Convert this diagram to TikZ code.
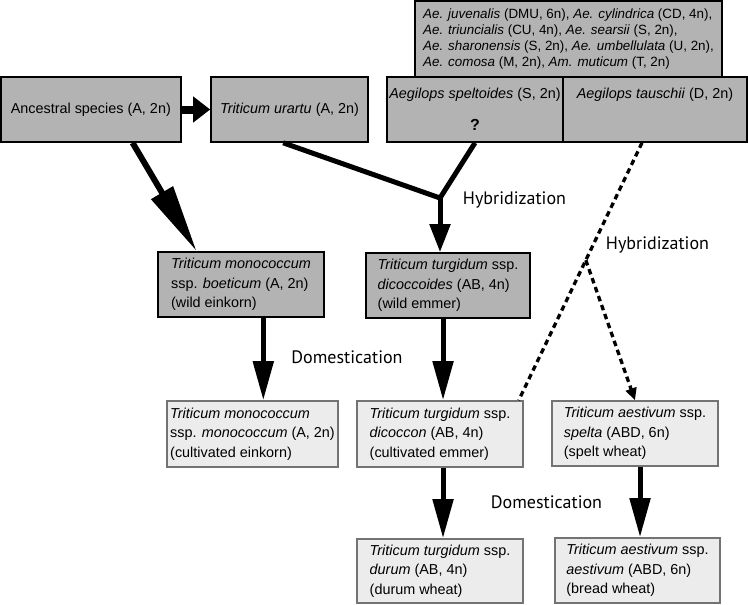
\documentclass[tikz,border=0pt]{standalone}
\usepackage{fontspec}
\setmainfont{Liberation Sans}
\newfontfamily\labfont{PT Sans}
\usetikzlibrary{arrows.meta,calc}
\definecolor{darkfill}{RGB}{179,179,179}
\definecolor{lightfill}{RGB}{236,236,236}
\definecolor{lightborder}{RGB}{115,115,115}
\begin{document}
\begin{tikzpicture}[x=1pt,y=-1pt,
  box/.style={rectangle, inner sep=0pt, align=left, font=\fontsize{14.4}{19.5}\selectfont},
  darkbox/.style={box, draw=black, line width=1.6pt, fill=darkfill},
  lightbox/.style={box, draw=lightborder, line width=1.6pt, fill=lightfill},
  thickarrow/.style={line width=5pt, -{Triangle[width=20pt,length=39pt]}},
  hybline/.style={line width=5pt},
  dotline/.style={line width=3.3pt, dash pattern=on 5.5pt off 4pt},
  lab/.style={font=\labfont\fontsize{18}{20}\selectfont, inner sep=0pt}
]
\useasboundingbox (0,0) rectangle (748,605);

% top row
\node[darkbox, minimum width=180pt, minimum height=65pt] (anc) at (90.8,109.5) {Ancestral species (A, 2n)};
\node[darkbox, minimum width=157pt, minimum height=65pt] (urartu) at (289.5,109.5) {\textit{Triticum urartu} (A, 2n)};
\node[darkbox, minimum width=307pt, minimum height=76pt, align=left, font=\fontsize{13.4}{16}\selectfont] (aegl) at (568.5,38.8)
  {\textit{Ae. juvenalis} (DMU, 6n), \textit{Ae. cylindrica} (CD, 4n),\\
   \textit{Ae. triuncialis} (CU, 4n), \textit{Ae. searsii} (S, 2n),\\
   \textit{Ae. sharonensis} (S, 2n), \textit{Ae. umbellulata} (U, 2n),\\
   \textit{Ae. comosa} (M, 2n), \textit{Am. muticum} (T, 2n)};
\node[darkbox, minimum width=176pt, minimum height=65pt, align=center] (spelt) at (475,109.5)
  {\textit{Aegilops speltoides} (S, 2n)\\[12pt]{\fontsize{16}{19.5}\selectfont\bfseries ?}};
\node[darkbox, minimum width=184pt, minimum height=65pt, align=center] (tausch) at (655,109.5)
  {\textit{Aegilops tauschii} (D, 2n)\\[12pt]{\fontsize{16}{19.5}\selectfont\bfseries\phantom{?}}};

% wild row
\node[darkbox, minimum width=166pt, minimum height=65pt] (boet) at (241,284.5)
  {\textit{Triticum monococcum}\\ssp. \textit{boeticum} (A, 2n)\\(wild einkorn)};
\node[darkbox, minimum width=164pt, minimum height=65pt] (dicoides) at (448,285.5)
  {\textit{Triticum turgidum} ssp.\\\textit{dicoccoides} (AB, 4n)\\(wild emmer)};

% cultivated row
\node[lightbox, minimum width=171pt, minimum height=66pt] (monocult) at (252.5,434)
  {\textit{Triticum monococcum}\\ssp. \textit{monococcum} (A, 2n)\\(cultivated einkorn)};
\node[lightbox, minimum width=166pt, minimum height=66pt] (dicoccon) at (440,434)
  {\textit{Triticum turgidum} ssp.\\\textit{dicoccon} (AB, 4n)\\(cultivated emmer)};
\node[lightbox, minimum width=166pt, minimum height=65pt] (speltw) at (635,433.5)
  {\textit{Triticum aestivum} ssp.\\\textit{spelta} (ABD, 6n)\\(spelt wheat)};

% bottom row
\node[lightbox, minimum width=166pt, minimum height=64pt] (durum) at (440,571)
  {\textit{Triticum turgidum} ssp.\\\textit{durum} (AB, 4n)\\(durum wheat)};
\node[lightbox, minimum width=165pt, minimum height=65pt] (bread) at (637.5,570.5)
  {\textit{Triticum aestivum} ssp.\\\textit{aestivum} (ABD, 6n)\\(bread wheat)};

% labels
\node[lab] (hyb1) at (514.5,200) {Hybridization};
\node[lab] (hyb2) at (657.5,245) {Hybridization};
\node[lab] (dom1) at (347,357) {Domestication};
\node[lab] (dom2) at (546.5,502) {Domestication};

% helper coordinates
\coordinate (a1) at ($(anc.south west)!0.73!(anc.south east)$);
\coordinate (b0) at ($(boet.north west)!0.235!(boet.north east)$);
\coordinate (u1) at ($(urartu.south west)!0.46!(urartu.south east)$);
\coordinate (j1) at (440,198);
\coordinate (b1) at ($(boet.south west)!0.633!(boet.south east)$);
\coordinate (w1) at ($(dicoides.south west)!0.47!(dicoides.south east)$);
\coordinate (c1) at ($(dicoccon.south west)!0.518!(dicoccon.south east)$);
\coordinate (s1) at ($(speltw.south west)!0.53!(speltw.south east)$);
\coordinate (t1) at ($(tausch.south west)!0.43!(tausch.south east)$);
\coordinate (d1) at ($(dicoccon.north west)!0.97!(dicoccon.north east)$);
\coordinate (j2) at ($(t1)!0.456!(d1)$);

% connectors
\draw[line width=8pt, -{Triangle[width=25pt,length=17pt]}] (anc.east) -- (urartu.west);
\draw[line width=6pt, -{Triangle[width=24pt,length=68pt]}] (a1) -- (b0);
\draw[hybline, line join=miter] (u1) -- (j1) -- (spelt.south);
\draw[line width=5pt, -{Triangle[width=20pt,length=28pt]}] (j1) -- (j1 |- dicoides.north);
\draw[thickarrow] (b1) -- (b1 |- monocult.north);
\draw[thickarrow] (w1) -- (w1 |- dicoccon.north);
\draw[thickarrow] (c1) -- (c1 |- durum.north);
\draw[thickarrow] (s1) -- (s1 |- bread.north);
\draw[dotline] (t1) -- (d1);
\draw[dotline, -{Triangle[width=11pt,length=12pt]}] (j2) -- (speltw.north);
\end{tikzpicture}
\end{document}
